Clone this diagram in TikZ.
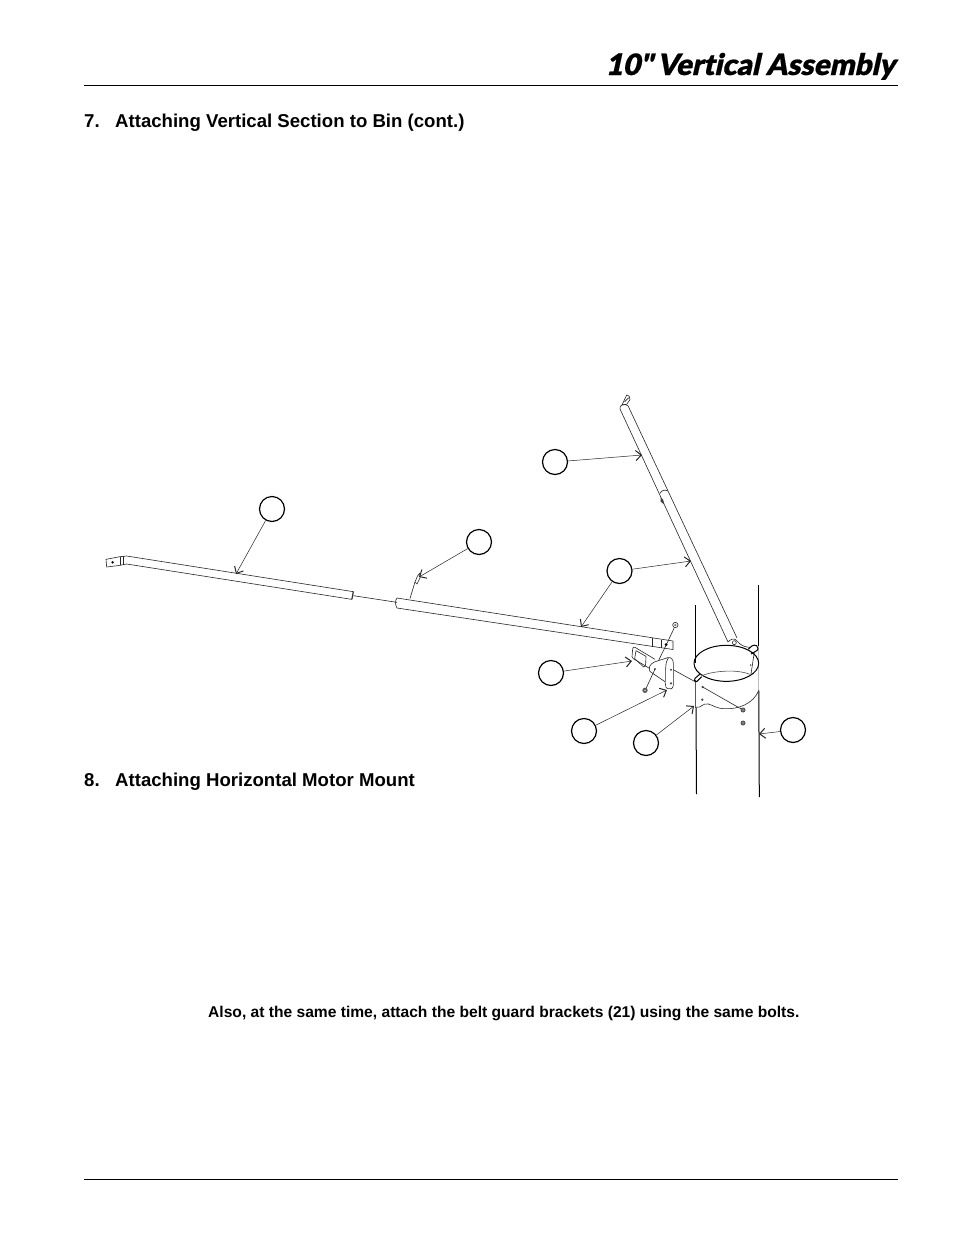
\documentclass[tikz,border=0pt]{standalone}
\usepackage{fontspec}
\usetikzlibrary{arrows.meta}
\setmainfont{Liberation Sans}
\newfontfamily\titlefont[FakeSlant=0.22,FakeBold=0.5,Ligatures=NoCommon]{Lato Black}
\tikzset{
 callout/.style={circle,draw=black,line width=1.2pt,minimum size=25pt,inner sep=0pt},
 leader/.style={draw=black!85,line width=.5pt,-{Straight Barb[length=5.5pt,width=10pt,line width=1pt]}},
 part/.style={draw=black!85,line width=.6pt,line join=round},
 rim/.style={draw=black,line width=1pt,line join=round},
 rulex/.style={draw=black,line width=.9pt},
 wall/.style={draw=black,line width=1pt},
 head/.style={anchor=base west,inner sep=0pt,font=\bfseries\fontsize{18.6}{22}\selectfont}
}
\begin{document}
\begin{tikzpicture}[x=1pt,y=-1pt]
\useasboundingbox (0,0) rectangle (954,1235);
\fill[white] (0,0) rectangle (954,1235);
% page furniture
\coordinate (ra) at (84,85.5); \coordinate (rb) at (898,85.5);
\coordinate (rc) at (84,1179); \coordinate (rd) at (898,1179);
\draw[rulex] (ra) -- (rb); \draw[rulex] (rc) -- (rd);
\node[anchor=base east,inner sep=0pt] (title) at (895,75) {\titlefont\fontsize{29.5}{33}\selectfont 10"\,Vertical Assembly};
\node[head] (h7a) at (84,127.2) {7.};
\node[head] (h7b) at (115,127.2) {Attaching Vertical Section to Bin (cont.)};
\node[head] (h8a) at (84,786.2) {8.};
\node[head] (h8b) at (115,786.2) {Attaching Horizontal Motor Mount};
\node[anchor=base west,inner sep=0pt,font=\bfseries\fontsize{15.6}{18}\selectfont] (note) at (208,1017) {Also, at the same time, attach the belt guard brackets (21) using the same bolts.};
% bin walls
\draw[wall] (695.7,605) -- (695.7,663);
\draw[line width=1.3pt,black!65] (695.7,680) -- (695.7,708);
\draw[wall] (696,708) -- (696.5,794);
\draw[wall] (758.7,585) -- (758.7,646);
\draw[line width=1pt,black!25] (758.7,646) -- (758.7,691);
\draw[wall] (758.8,691) -- (759.3,797);
% left tube
\begin{scope}[shift={(95,490)},scale=1/3]
 \draw[part] (95,198) -- (775,305) -- (770,328) -- (95,222);
 \draw[part] (95,198) -- (75,200) -- (33,208) -- (35,231) -- (75,226) -- (95,222);
 \draw[part] (75,200) -- (75,226) (84,199) -- (84,225);
 \fill[black] (53,217) circle (4);
 \draw[line width=1pt,black!80] (775,305) -- (771,328);
 \draw[part] (775,317) -- (906,337);
\end{scope}
% middle tube
\draw[part] (397,598) -- (673,641) -- (673,649.5) -- (397,608) .. controls (395,605) and (395,600) .. (397,598);
\draw[part] (652,638) -- (652,646.5) (661,639.5) -- (661,648);
\fill[black] (666,644.5) circle (1.4);
% pin on the rod
\draw[part] (410,598.5) -- (415,582);
\draw[part] (415,582) -- (417.5,576) -- (420,573) -- (420,578) -- (417,584) -- (415,582);
% upright tube
\draw[part] (620,409) -- (728,642) (628,405.7) -- (737,638);
\draw[part] (620,409) .. controls (619,405) and (624,403) .. (628,405.7);
\begin{scope}[shift={(610,385)},scale=1/3]
 \draw[part] (36,60) -- (50,30) .. controls (56,28) and (60,36) .. (60,44) -- (50,58) -- (36,60);
 \draw[part] (44,50) -- (56,38);
\end{scope}
\begin{scope}[shift={(530,385)},scale=1/3]
 \draw[part] (390,325) .. controls (395,315) and (405,313) .. (413,318);
 \fill[black!75] (392,337) -- (400,345) -- (402,358) -- (392,350) -- cycle;
\end{scope}
% clamp band, from the crop at (685,630)
\begin{scope}[shift={(685,630)},scale=1/3]
 \draw[part] (129,36) .. controls (135,28) and (150,22) .. (156,33) .. controls (165,45) and (180,52) .. (195,52);
 \draw[part] (148,38) circle (6);
 \draw[rim] (124,100) ellipse [x radius=97,y radius=54];
 \draw[rim] (190,58) .. controls (197,50) and (205,42) .. (215,47) .. controls (222,52) and (220,60) .. (212,64) -- (198,72);
 \draw[rim] (50,140) -- (35,155) .. controls (28,155) and (26,150) .. (30,145) -- (45,132);
 \draw[part,draw=black!70] (48,138) .. controls (75,125) and (150,115) .. (195,133);
 \draw[part] (208,66) -- (198,132);
 \fill[black!80] (197,105) circle (2.5);
 \draw[part] (32,232) .. controls (50,235) and (52,218) .. (70,222) .. controls (85,226) and (95,236) .. (120,236) .. controls (160,238) and (205,222) .. (222,180);
 \fill[black!70] (53,171) circle (4) (52,209) circle (4);
 \draw[part] (53,171) -- (174,240);
\end{scope}
\begin{scope}[shift={(600,580)},scale=1/3]
 \fill[black!65] (429,390) circle (7.5) (429,429) circle (7.5);
 \fill[white] (429,390) circle (2) (429,429) circle (2);
 \draw[part] (216,267) -- (287,306);
 % strap plate
 \draw[part] (165,238) -- (105,202) .. controls (100,200) and (99,203) .. (98,207) -- (96,230) .. controls (96,233) and (97,235) .. (100,236) -- (150,266);
 \draw[part] (108,212) -- (138,229) -- (137,250) .. controls (137,256) and (135,264) .. (131,261) -- (104,236) -- (108,212);
 % bracket
 \draw[part,fill=white] (148,268) .. controls (146,255) and (158,246) .. (175,242) -- (203,233) .. controls (214,230) and (220,240) .. (220,250) -- (220,315) .. controls (220,326) and (210,330) .. (203,326) -- (198,322) -- (195,305) -- (155,278) .. controls (150,276) and (148,272) .. (148,268);
 \draw[part] (205,234) .. controls (198,245) and (197,255) .. (197,265) -- (197,305);
 \fill[black!70] (165,267) circle (3.5) (213,269) circle (3.5) (213,310) circle (3.5);
 % bolts
 \draw[part] (165,267) -- (136,330);
 \fill[black!65] (135,331) circle (8);
 \fill[white] (135,331) circle (2);
 \draw[part] (222,145) -- (199,194) -- (176,241);
 \draw[part] (226,135) circle (8);
 \fill[black!50] (226,135) circle (4);
 \fill[black] (199,194) circle (3.5);
\end{scope}
% callouts
\node[callout] (c1) at (555,462) {};
\node[callout] (c2) at (272,509) {};
\node[callout] (c3) at (479,542) {};
\node[callout] (c4) at (619.5,571) {};
\node[callout] (c5) at (551,673) {};
\node[callout] (c6) at (584,731) {};
\node[callout] (c7) at (646,743) {};
\node[callout] (c8) at (793,730) {};
\coordinate (t1) at (642,455);
\coordinate (t2) at (236,574);
\coordinate (t3) at (419,577);
\coordinate (t4a) at (691,561);
\coordinate (t4b) at (581,627);
\coordinate (t5) at (632,661);
\coordinate (t6) at (667,690);
\coordinate (t7) at (694,706);
\coordinate (t8) at (759,734);
\draw[leader] (c1) -- (t1);
\draw[leader] (c2) -- (t2);
\draw[leader] (c3) -- (t3);
\draw[leader] (c4) -- (t4a);
\draw[leader] (c4) -- (t4b);
\draw[leader] (c5) -- (t5);
\draw[leader] (c6) -- (t6);
\draw[leader] (c7) -- (t7);
\draw[leader] (c8) -- (t8);
\end{tikzpicture}
\end{document}
